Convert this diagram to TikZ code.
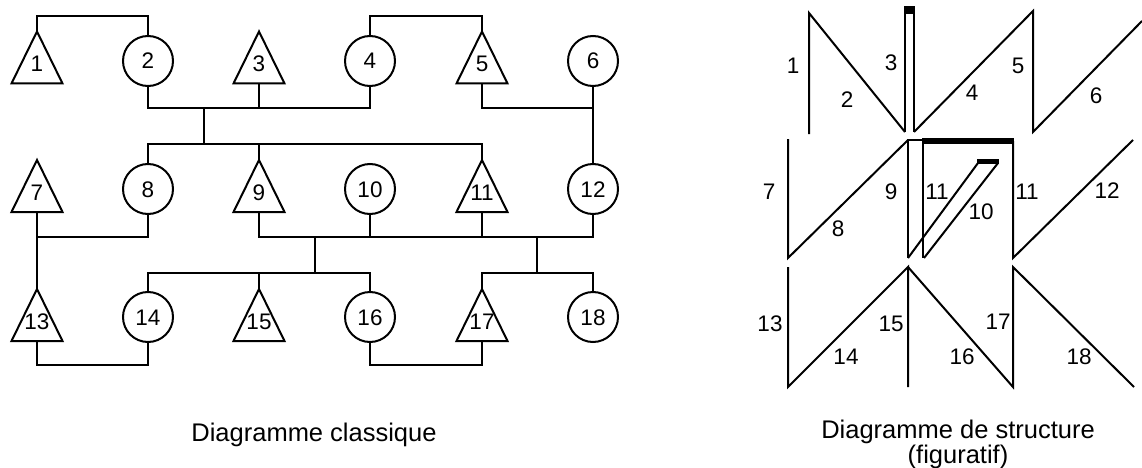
\documentclass[tikz,border=0pt]{standalone}
\usepackage{fontspec}
\setmainfont{Liberation Sans}
\begin{document}
\begin{tikzpicture}[x=1pt,y=-1pt,line width=2pt,
  num/.style={font=\fontsize{22.5}{26}\selectfont,text height=16pt,text depth=0pt,inner sep=0pt},
  tri/.style={num,minimum width=49pt,minimum height=50pt,text height=29pt},
  circ/.style={num,circle,draw,minimum size=50pt},
  caption/.style={font=\fontsize{25.5}{29}\selectfont,inner sep=0pt,anchor=base}]
\useasboundingbox (0,0) rectangle (1142,468);
% helper levels
\path (0,16) coordinate (h16) (0,108) coordinate (h108) (0,144) coordinate (h144)
      (0,237) coordinate (h237) (0,273) coordinate (h273) (0,365) coordinate (h365);
% ---------- classic diagram ----------
\node[tri]  (t1)  at (37,57.5)  {1};
\node[circ] (c2)  at (148,61)   {2};
\node[tri]  (t3)  at (259,57.5) {3};
\node[circ] (c4)  at (370,61)   {4};
\node[tri]  (t5)  at (482,57.5) {5};
\node[circ] (c6)  at (593,61)   {6};
\node[tri]  (t7)  at (37,186)   {7};
\node[circ] (c8)  at (148,189)  {8};
\node[tri]  (t9)  at (259,186)  {9};
\node[circ] (c10) at (370,189)  {10};
\node[tri]  (t11) at (482,186)  {11};
\node[circ] (c12) at (593,189)  {12};
\node[tri]  (t13) at (37,315)   {13};
\node[circ] (c14) at (148,317)  {14};
\node[tri]  (t15) at (259,315)  {15};
\node[circ] (c16) at (370,317)  {16};
\node[tri]  (t17) at (482,315)  {17};
\node[circ] (c18) at (593,317)  {18};
\foreach \n in {t1,t3,t5,t7,t9,t11,t13,t15,t17}
  \draw (\n.south west) -- (\n.north) -- (\n.south east) -- cycle;
\coordinate (j1) at (204,108); \coordinate (j1b) at (204,144);
\coordinate (j2) at (315,237); \coordinate (j2b) at (315,273);
\coordinate (j3) at (537,237); \coordinate (j3b) at (537,273);
\draw (t1.north) |- (h16 -| c2.north) -- (c2.north);
\draw (c4.north) |- (h16 -| t5.north) -- (t5.north);
\draw (c2.south) |- (h108 -| c4.south) -- (c4.south);
\draw (t3.south) -- (t3.south |- h108);
\draw (j1) -- (j1b);
\draw (c8.north) |- (h144 -| t11.north) -- (t11.north);
\draw (t9.north) -- (t9.north |- h144);
\draw (t5.south) |- (h108 -| c6.south);
\draw (c6.south) -- (c12.north);
\draw (t7.south) -- (t13.north);
\draw (c8.south) |- (h237 -| t7.south);
\draw (t9.south) |- (h237 -| c12.south) -- (c12.south);
\draw (c10.south) -- (c10.south |- h237);
\draw (t11.south) -- (t11.south |- h237);
\draw (j2) -- (j2b);
\draw (c14.north) |- (h273 -| c16.north) -- (c16.north);
\draw (t15.north) -- (t15.north |- h273);
\draw (j3) -- (j3b);
\draw (t17.north) |- (h273 -| c18.north) -- (c18.north);
\draw (t13.south) |- (h365 -| c14.south) -- (c14.south);
\draw (c16.south) |- (h365 -| t17.south) -- (t17.south);
\node[caption] (cap1) at (314,441) {Diagramme classique};
% ---------- structure diagram ----------
\draw (809,134) -- (809,13) -- (905,132);
\draw (905,132) -- (905,7.5) -- (914,7.5) -- (914,132);
\fill (904,6.5) rectangle (915,14);
\draw (914,132) -- (1033,11) -- (1033,132) -- (1142,21);
\draw (788,139) -- (788,258) -- (908,140);
\draw (908,258) -- (908,140) -- (923,140) -- (923,258);
\fill (922,138) rectangle (1014,144);
\draw (1013,141) -- (1013,258) -- (1133,140);
\draw (908,258) -- (978,163);
\draw (924,258) -- (998,163);
\fill (977,159) rectangle (999,164);
\draw (788,267) -- (788,387) -- (908,267) -- (908,387);
\draw (908,267) -- (1013,387) -- (1013,267) -- (1134,387);
\node[num] (r1)  at (793,66)  {1};
\node[num] (r2)  at (847,100) {2};
\node[num] (r3)  at (891,63)  {3};
\node[num] (r4)  at (972,93)  {4};
\node[num] (r5)  at (1018,66) {5};
\node[num] (r6)  at (1096,95) {6};
\node[num] (r7)  at (769,191) {7};
\node[num] (r8)  at (838,228) {8};
\node[num] (r9)  at (891,191) {9};
\node[num] (r11a) at (937,191) {11};
\node[num] (r10) at (981,211) {10};
\node[num] (r11b) at (1027,191) {11};
\node[num] (r12) at (1107,190) {12};
\node[num] (r13) at (770,323) {13};
\node[num] (r14) at (846,356) {14};
\node[num] (r15) at (891,323) {15};
\node[num] (r16) at (962,356) {16};
\node[num] (r17) at (998,321) {17};
\node[num] (r18) at (1079,356) {18};
\node[caption] (cap2) at (958,438) {Diagramme de structure};
\node[caption] (cap3) at (958,463) {(figuratif)};
\end{tikzpicture}
\end{document}
